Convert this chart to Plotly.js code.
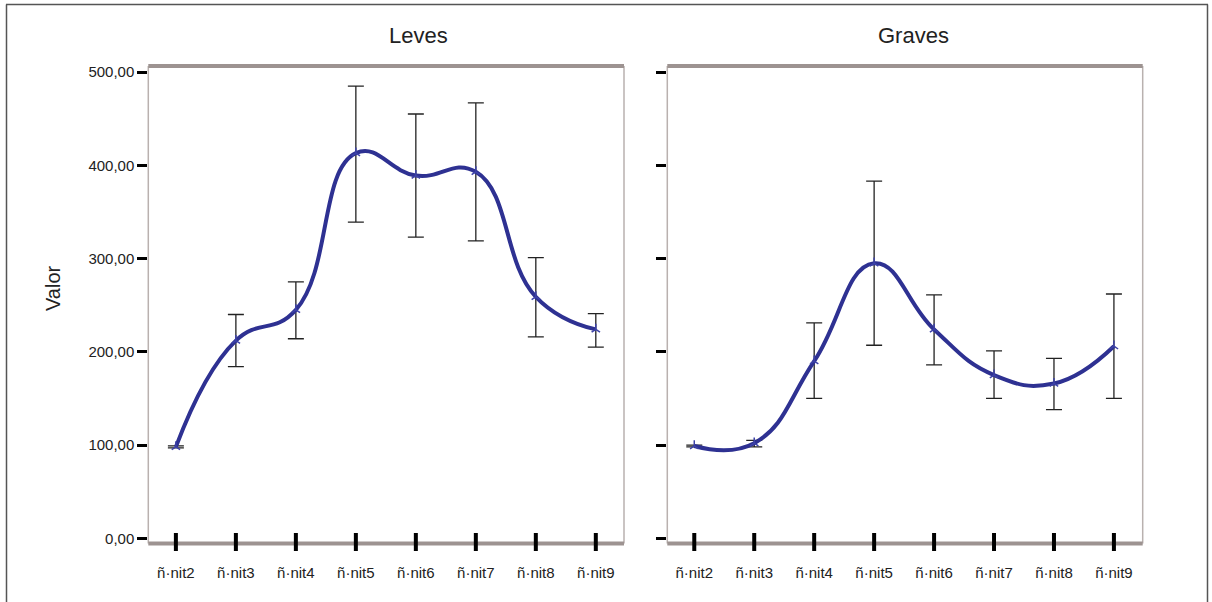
<!DOCTYPE html>
<html>
<head>
<meta charset="utf-8">
<script src="https://cdn.plot.ly/plotly-3.0.1.min.js"></script>
<style>html,body{margin:0;padding:0;background:#fff;}#chart{width:1212px;height:602px;}</style>
</head>
<body>
<div id="chart"></div>
<script>
// ---- data ----
const categories = ["ñ·nit2","ñ·nit3","ñ·nit4","ñ·nit5","ñ·nit6","ñ·nit7","ñ·nit8","ñ·nit9"];
const panelTitles = ["Leves","Graves"];
const yTickVals = [0,100,200,300,400,500];

const levesMean  = [98, 212, 245, 413, 389, 393, 259, 224];
const levesUpper = [99, 240, 275, 485, 455, 467, 301, 241];
const levesLower = [97, 184, 214, 339, 323, 319, 216, 205];

const gravesMean  = [99, 102, 190, 295, 224, 175, 166, 206];
const gravesUpper = [100, 105, 231, 383, 261, 201, 193, 262];
const gravesLower = [98, 98, 150, 207, 186, 150, 138, 150];

// ---- helpers ----
const W = 1212, H = 602;
const px = v => v / W;
const py = v => 1 - v / H;

const lineColor = '#2e3192';
function makeTrace(mean, up, lo, xa, ya) {
  return {
    type: 'scatter', mode: 'lines+markers',
    x: categories.map((c, i) => i), y: mean,
    xaxis: xa, yaxis: ya,
    line: {shape: 'spline', smoothing: 1.3, color: lineColor, width: 4},
    marker: {symbol: 'y-up-open', size: 7, color: '#3d42a8', line: {width: 1.5, color: '#3d42a8'}},
    error_y: {
      type: 'data', symmetric: false,
      array: up.map((u, i) => u - mean[i]),
      arrayminus: lo.map((l, i) => mean[i] - l),
      color: '#222', thickness: 1.3, width: 8
    },
    hoverinfo: 'skip', showlegend: false
  };
}

const data = [
  makeTrace(levesMean, levesUpper, levesLower, 'x', 'y'),
  makeTrace(gravesMean, gravesUpper, gravesLower, 'x2', 'y2')
];

const yDomain = [py(543.5), py(66)];
const yRange = [-5.6, 506.5];
const panels = [
  {xa: 'x', l: 148.3, r: 624, range: [-0.46, 7.47], title: panelTitles[0], tx: 418.5},
  {xa: 'x2', l: 667.3, r: 1142.7, range: [-0.45, 7.48], title: panelTitles[1], tx: 913}
];

const font = {family: 'Liberation Sans, Arial, sans-serif', color: '#222'};
const xBase = {
  type: 'linear', tickmode: 'array',
  tickvals: categories.map((c, i) => i), ticktext: categories,
  ticks: '', showgrid: false, zeroline: false, showline: false,
  tickfont: Object.assign({size: 15}, font), ticklabelstandoff: 18, fixedrange: true
};
const yBase = {
  domain: yDomain, range: yRange, tickmode: 'array', tickvals: yTickVals,
  tickformat: '.2f', ticks: 'outside', ticklen: 10, tickwidth: 3, tickcolor: '#000',
  showgrid: false, zeroline: false, showline: false,
  tickfont: Object.assign({size: 15}, font), fixedrange: true
};

const shapes = [];
const annotations = [];
panels.forEach(p => {
  shapes.push({type: 'line', xref: 'paper', yref: 'paper', x0: px(p.l), x1: px(p.l), y0: py(543.5), y1: py(66), line: {color: '#b9b1af', width: 1.5}});
  shapes.push({type: 'line', xref: 'paper', yref: 'paper', x0: px(p.r), x1: px(p.r), y0: py(543.5), y1: py(66), line: {color: '#b9b1af', width: 1.5}});
  shapes.push({type: 'line', xref: 'paper', yref: 'paper', x0: px(p.l), x1: px(p.r), y0: py(66), y1: py(66), line: {color: '#9d9391', width: 4}});
  shapes.push({type: 'line', xref: 'paper', yref: 'paper', x0: px(p.l), x1: px(p.r), y0: py(543.5), y1: py(543.5), line: {color: '#9d9391', width: 4}});
  categories.forEach((c, i) => {
    shapes.push({type: 'line', xref: p.xa, yref: 'paper', x0: i, x1: i, y0: py(551), y1: py(533), line: {color: '#000', width: 4}});
  });
  annotations.push({text: p.title, xref: 'paper', yref: 'paper', x: px(p.tx), y: py(36), xanchor: 'center', yanchor: 'middle', showarrow: false, font: Object.assign({size: 22}, font)});
});
shapes.push({type: 'line', xref: 'paper', yref: 'paper', x0: px(6), x1: px(1208), y0: py(4.5), y1: py(4.5), line: {color: '#555', width: 1.5}});
shapes.push({type: 'line', xref: 'paper', yref: 'paper', x0: px(6.5), x1: px(6.5), y0: py(4.5), y1: py(602), line: {color: '#555', width: 1.5}});
shapes.push({type: 'line', xref: 'paper', yref: 'paper', x0: px(1207.5), x1: px(1207.5), y0: py(4.5), y1: py(602), line: {color: '#555', width: 1.5}});

annotations.push({text: 'Valor', xref: 'paper', yref: 'paper', x: px(53), y: py(288), xanchor: 'center', yanchor: 'middle', textangle: -90, showarrow: false, font: Object.assign({size: 20}, font)});

const layout = {
  width: W, height: H,
  margin: {l: 0, r: 0, t: 0, b: 0},
  paper_bgcolor: '#fff', plot_bgcolor: '#fff',
  separators: ',.',
  showlegend: false,
  xaxis: Object.assign({}, xBase, {domain: [px(panels[0].l), px(panels[0].r)], range: panels[0].range, anchor: 'y'}),
  yaxis: Object.assign({}, yBase, {anchor: 'x'}),
  xaxis2: Object.assign({}, xBase, {domain: [px(panels[1].l), px(panels[1].r)], range: panels[1].range, anchor: 'y2'}),
  yaxis2: Object.assign({}, yBase, {anchor: 'x2', showticklabels: false}),
  shapes: shapes,
  annotations: annotations
};

Plotly.newPlot('chart', data, layout, {displayModeBar: false, staticPlot: true});
</script>
</body>
</html>
